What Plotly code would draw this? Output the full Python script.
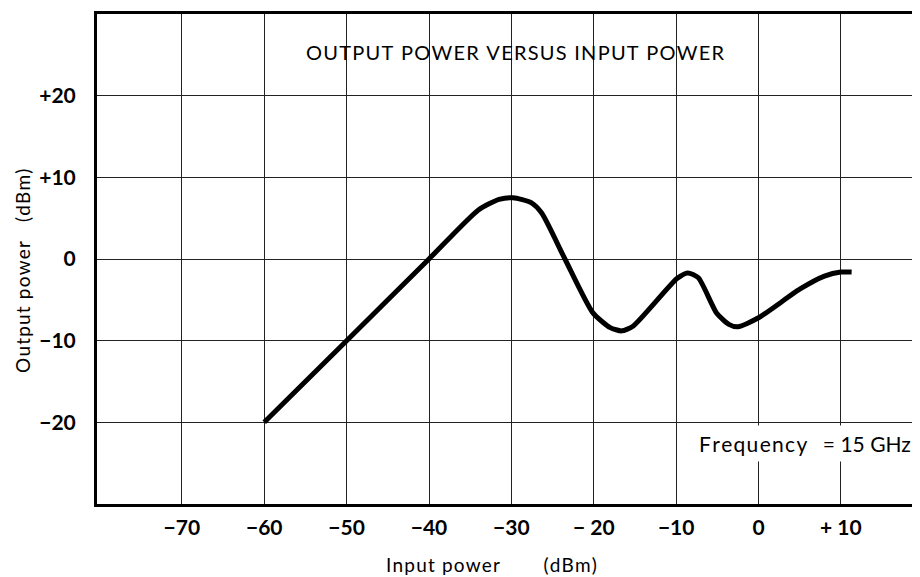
import plotly.graph_objects as go

input_power = [-60, -50, -40, -34, -31.5, -29.8, -27.6, -26.3, -23.5, -20.1, -18.0, -16.6,
               -15.2, -9.9, -8.6, -7.3, -5.1, -3.6, -2.5, 0, 5, 8, 10, 11.3]
output_power = [-20, -10, 0, 6.0, 7.3, 7.5, 6.9, 5.6, 0, -6.6, -8.4, -8.8,
                -8.2, -2.4, -1.7, -2.3, -6.6, -8.0, -8.3, -7.2, -3.7, -2.1, -1.6, -1.6]

x_ticks = [-70, -60, -50, -40, -30, -20, -10, 0, 10]
x_tick_labels = ["−70", "−60", "−50", "−40", "−30", "− 20", "−10", "0", "+ 10"]
y_ticks = [20, 10, 0, -10, -20]
y_tick_labels = ["+20", "+10", "0", "−10", "−20"]

FONT = "Lato"
HS = "\u200a"
NB = "&nbsp;"

# page has an 8px body margin; size the figure so it fits the 920x577 window
W, H = 912, 569
ML, MR, MT, MB = 89, 0, 6, 73
PW, PH = W - ML - MR, H - MT - MB


def spaced(s):
    return HS.join(s)


def paper_xy(px, py):
    fx, fy = px - 8, py - 8
    return (fx - ML) / PW, (H - fy - MB) / PH


fig = go.Figure()
fig.add_trace(go.Scatter(
    x=input_power, y=output_power, mode="lines",
    line=dict(color="black", width=5, shape="spline", smoothing=0.6),
    showlegend=False, hoverinfo="skip"))

fig.update_layout(
    width=W, height=H,
    margin=dict(l=ML, r=MR, t=MT, b=MB),
    paper_bgcolor="white", plot_bgcolor="white",
    font=dict(family=FONT, color="black"),
    xaxis=dict(
        range=[-80.3, 19.6], tickvals=x_ticks, ticktext=x_tick_labels,
        showgrid=True, gridcolor="#222222", gridwidth=1, automargin=False,
        zeroline=False, showline=True, linecolor="black", linewidth=3, mirror=True,
        ticks="", ticklabelstandoff=3,
        tickfont=dict(family=FONT, size=21, color="black", weight="bold"),
    ),
    yaxis=dict(
        range=[-30, 30], tickvals=y_ticks, ticktext=y_tick_labels,
        showgrid=True, gridcolor="#222222", gridwidth=1, automargin=False,
        zeroline=False, showline=True, linecolor="black", linewidth=3, mirror=False,
        ticks="", ticklabelstandoff=14,
        tickfont=dict(family=FONT, size=21, color="black", weight="bold"),
    ),
)

# chart title inside the plot
fig.add_annotation(x=-29.5, y=25.3, xref="x", yref="y",
                   text=spaced("OUTPUT POWER VERSUS INPUT POWER"),
                   showarrow=False, font=dict(family=FONT, size=20, color="black"))
# frequency note
fig.add_annotation(x=5.6, y=-22.6, xref="x", yref="y",
                   text=spaced("Frequency") + NB * 3 + "= 15 GHz",
                   showarrow=False, font=dict(family=FONT, size=21, color="black"),
                   bgcolor="white", borderpad=5)
# axis titles
ax, ay = paper_xy(491, 564)
fig.add_annotation(x=ax, y=ay, xref="paper", yref="paper",
                   xanchor="center", yanchor="middle",
                   text=spaced("Input power") + NB * 9 + spaced("(dBm)"),
                   showarrow=False, font=dict(family=FONT, size=19, color="black"))
bx, by = paper_xy(22, 271)
fig.add_annotation(x=bx, y=by, xref="paper", yref="paper",
                   xanchor="center", yanchor="middle",
                   text=spaced("Output power") + NB * 4 + spaced("(dBm)"),
                   textangle=-90,
                   showarrow=False, font=dict(family=FONT, size=19, color="black"))

fig.write_html("out.html")
